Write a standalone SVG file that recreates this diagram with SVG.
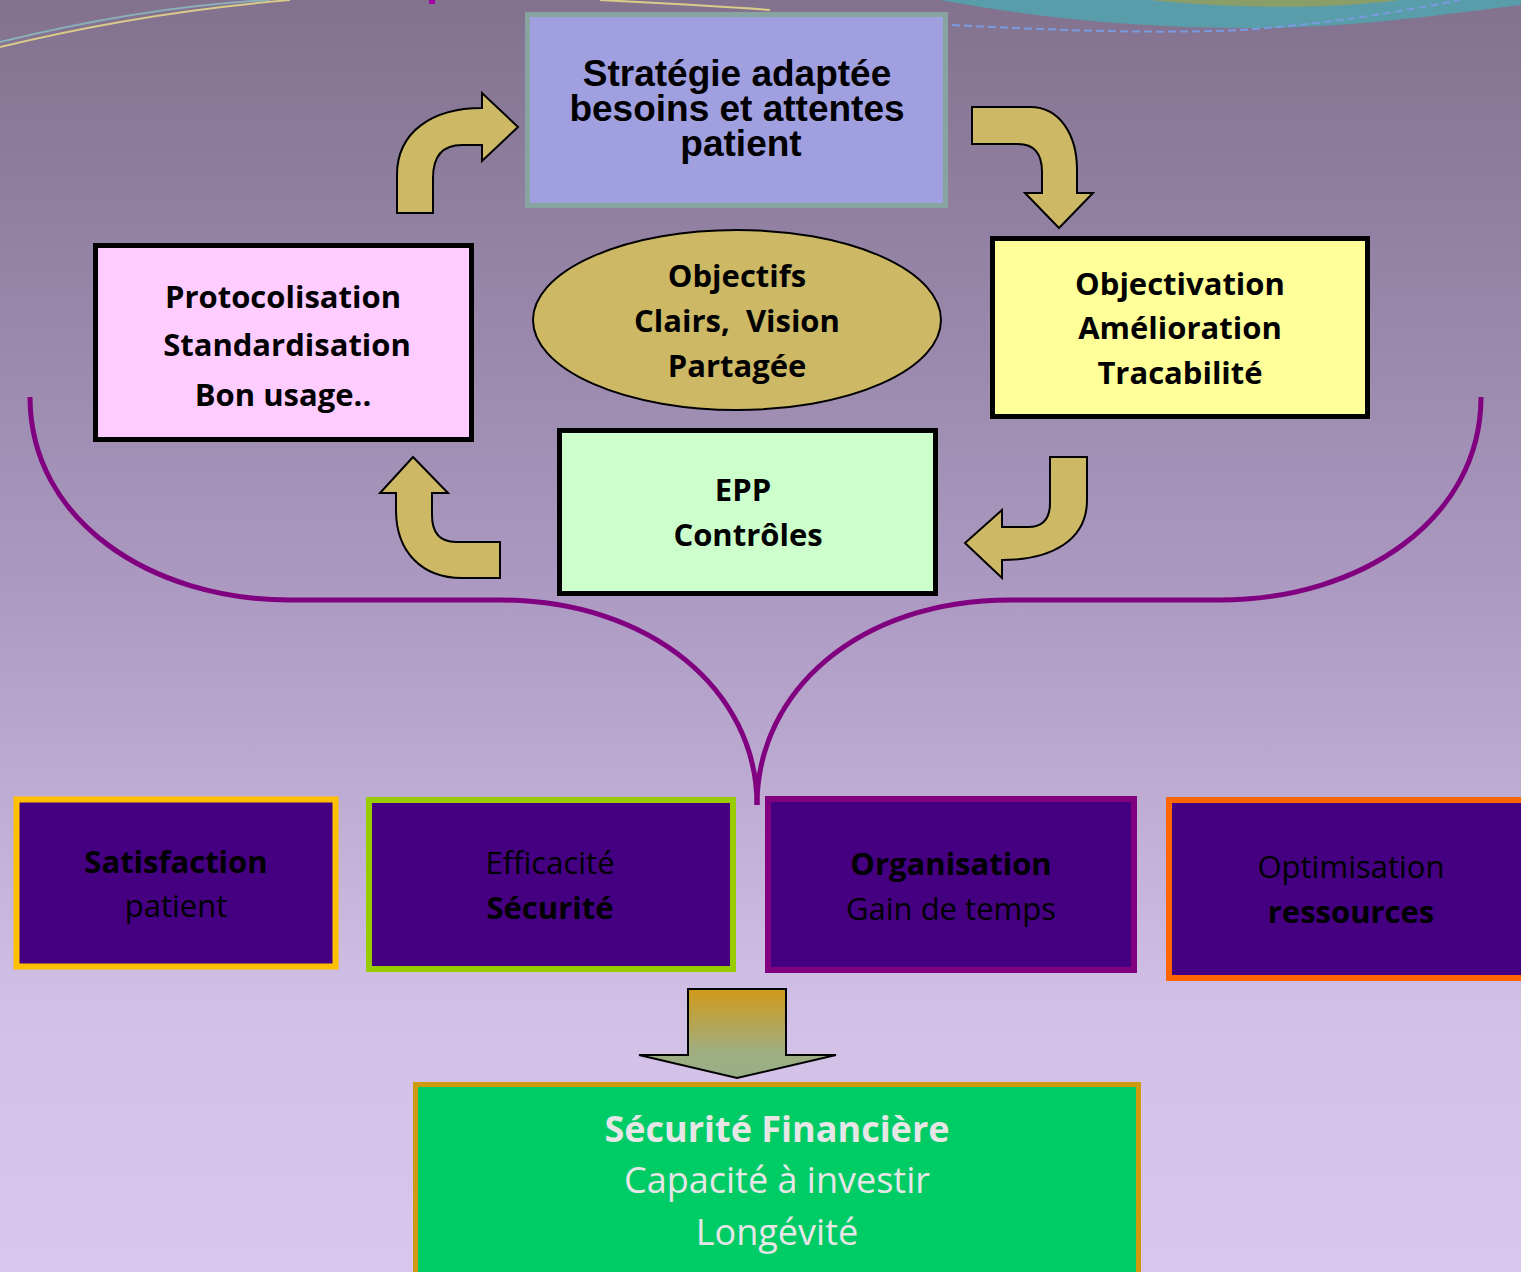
<svg xmlns="http://www.w3.org/2000/svg" width="1521" height="1272" viewBox="0 0 1521 1272">
<defs>
<linearGradient id="bg" x1="0" y1="0" x2="0" y2="1">
<stop offset="0" stop-color="#82728e"/>
<stop offset="0.45" stop-color="#aa98c0"/>
<stop offset="0.8" stop-color="#d2c0e6"/>
<stop offset="1" stop-color="#d8c6ee"/>
</linearGradient>
<linearGradient id="downGrad" x1="0" y1="0" x2="0" y2="1">
<stop offset="0" stop-color="#d09a1a"/>
<stop offset="0.7" stop-color="#a0ae80"/>
<stop offset="1" stop-color="#98ae88"/>
</linearGradient>
<style>
.curved{fill:#cdb866;stroke:#000;stroke-width:2;stroke-linejoin:miter}
.brace{fill:none;stroke:#800080;stroke-width:5;stroke-linecap:butt}
.t{font-family:"Open Sans","Noto Sans",sans-serif;font-weight:bold;fill:#000;text-anchor:middle}
.ta{font-family:"Liberation Sans",Arial,sans-serif;font-weight:bold;fill:#000;text-anchor:middle;font-size:37px}
.c{font-family:"Open Sans","Noto Sans",sans-serif;fill:#000;text-anchor:middle;font-size:31px}
.b{font-weight:bold}
.w{fill:#e6e6e6;font-size:36px}
.ind{fill:#440080}
</style>
</defs>
<rect width="1521" height="1272" fill="url(#bg)"/>
<g id="decoration">
<path d="M940,0 C1050,20 1150,28 1250,28 C1350,28 1440,15 1521,5 L1521,0 Z" fill="#5a9daa"/>
<path d="M1150,0 C1230,8 1320,10 1400,0 Z" fill="#8a9e6a"/>
<path d="M952,25 C1050,30 1150,34 1240,30 C1330,24 1410,10 1460,0" fill="none" stroke="#7a9ae0" stroke-width="2" stroke-dasharray="8,4"/>
<path d="M0,42 C70,25 170,5 270,0" fill="none" stroke="#8ab0b8" stroke-width="2"/>
<path d="M0,47 C70,30 170,10 290,0" fill="none" stroke="#d8cc88" stroke-width="2"/>
<path d="M600,0 C660,3 720,6 770,10" fill="none" stroke="#d8cc88" stroke-width="2"/>
<rect x="429" y="0" width="6" height="4" fill="#a000a0"/>
</g>
<g id="connectors">
<path class="brace" d="M30,397 C30,520 150,600 290,600 L500,600 C650,600 757,690 757,805"/>
<path class="brace" d="M1481,397 C1481,520 1360,600 1220,600 L1010,600 C860,600 757,690 757,805"/>
<path id="arrow-up-right" class="curved" d="M397,213 L397,175 C397,132 432,108 482,108 L482,93 L518,127 L482,161 L482,145 L462,145 Q433,145 433,178 L433,213 Z"/>
<path id="arrow-right-down" class="curved" d="M972,107 L1030,107 C1060,107 1077,135 1077,170 L1077,193 L1093,193 L1059,228 L1025,193 L1042,193 L1042,172 Q1042,144 1018,144 L972,144 Z"/>
<path id="arrow-down-left" class="curved" d="M1050,457 L1087,457 L1087,500 C1087,540 1052,560 1002,560 L1002,578 L965,543 L1002,510 L1002,527 L1028,527 Q1050,527 1050,503 Z"/>
<path id="arrow-left-up" class="curved" d="M500,542 L456,542 Q432,542 432,515 L432,493 L448,493 L413,457 L380,493 L396,493 L396,510 C396,552 422,578 462,578 L500,578 Z"/>
<path id="arrow-down" d="M688,989 L786,989 L786,1055 L836,1055 L737,1078 L639,1055 L688,1055 Z" fill="url(#downGrad)" stroke="#000" stroke-width="2"/>
</g>
<g id="node-strategie">
<rect x="527.5" y="14.5" width="418" height="191" fill="#a09fe0" stroke="#88a4a0" stroke-width="5"/>
<text class="ta" x="737" y="86">Stratégie adaptée</text>
<text class="ta" x="737" y="121">besoins et attentes</text>
<text class="ta" x="741" y="156">patient</text>
</g>
<g id="node-protocolisation">
<rect x="95.5" y="245.5" width="376" height="194" fill="#ffccff" stroke="#000" stroke-width="5"/>
<text class="t" font-size="31" x="283" y="308">Protocolisation</text>
<text class="t" font-size="31" x="287" y="356">Standardisation</text>
<text class="t" font-size="31" x="283" y="406">Bon usage..</text>
</g>
<g id="node-objectifs">
<ellipse cx="737" cy="320" rx="204" ry="90" fill="#cdb866" stroke="#000" stroke-width="2"/>
<text class="t" font-size="31" x="737" y="287">Objectifs</text>
<text class="t" font-size="31" x="737" y="332" xml:space="preserve">Clairs,  Vision</text>
<text class="t" font-size="31" x="737" y="377">Partagée</text>
</g>
<g id="node-objectivation">
<rect x="992.5" y="238.5" width="375" height="178" fill="#ffff99" stroke="#000" stroke-width="5"/>
<text class="t" font-size="31" x="1180" y="295">Objectivation</text>
<text class="t" font-size="31" x="1180" y="339">Amélioration</text>
<text class="t" font-size="31" x="1180" y="384">Tracabilité</text>
</g>
<g id="node-epp">
<rect x="559.5" y="430.5" width="376" height="163" fill="#ccffcc" stroke="#000" stroke-width="5"/>
<text class="t" font-size="31" x="743" y="501">EPP</text>
<text class="t" font-size="31" x="748" y="546">Contrôles</text>
</g>
<g id="node-satisfaction">
<rect class="ind" x="16.5" y="799.5" width="319" height="167" stroke="#ffc000" stroke-width="6"/>
<text class="c b" x="176" y="873">Satisfaction</text>
<text class="c" x="176" y="917">patient</text>
</g>
<g id="node-efficacite">
<rect class="ind" x="369" y="800" width="364" height="169" stroke="#99cc00" stroke-width="6"/>
<text class="c" x="550" y="874">Efficacité</text>
<text class="c b" x="550" y="919">Sécurité</text>
</g>
<g id="node-organisation">
<rect class="ind" x="768" y="799" width="366" height="171" stroke="#800080" stroke-width="6"/>
<text class="c b" x="951" y="875">Organisation</text>
<text class="c" x="951" y="920">Gain de temps</text>
</g>
<g id="node-optimisation">
<rect class="ind" x="1169" y="800" width="360" height="178" stroke="#ff6600" stroke-width="6"/>
<text class="c" x="1351" y="878">Optimisation</text>
<text class="c b" x="1351" y="923">ressources</text>
</g>
<g id="node-securite-financiere">
<rect x="415.5" y="1084.5" width="723" height="200" fill="#00cc66" stroke="#d09a10" stroke-width="5"/>
<text class="c b w" x="777" y="1142">Sécurité Financière</text>
<text class="c w" x="777" y="1193">Capacité à investir</text>
<text class="c w" x="777" y="1245">Longévité</text>
</g>
</svg>
